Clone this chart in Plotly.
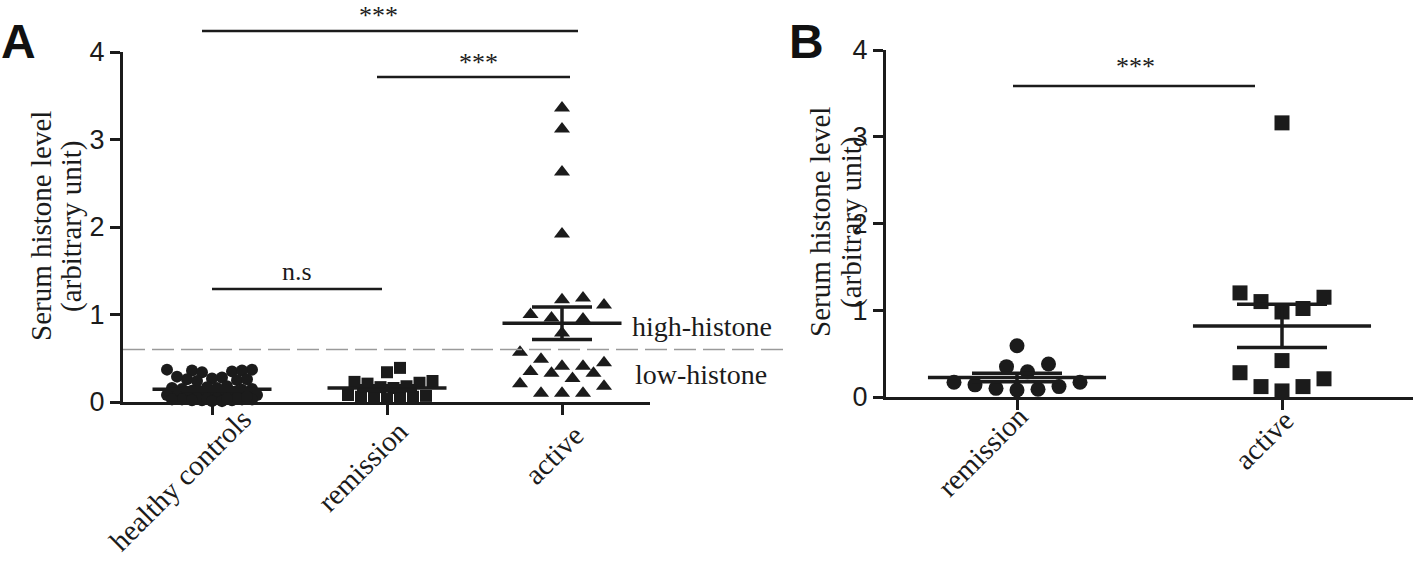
import numpy as np
import plotly.graph_objects as go

# ---------------- data ----------------
categories_a = ["healthy controls", "remission", "active"]
categories_b = ["remission", "active"]

healthy_a = [0.36, 0.37, 0.35, 0.36, 0.34, 0.37,
             0.28, 0.26, 0.27, 0.25, 0.24, 0.29, 0.26,
             0.17, 0.15, 0.16, 0.14, 0.18, 0.13, 0.15, 0.16,
             0.09, 0.08, 0.10, 0.07, 0.09, 0.11, 0.08, 0.06,
             0.03, 0.02, 0.04, 0.03, 0.05, 0.02, 0.03, 0.04, 0.01,
             0.05, 0.06, 0.02, 0.03, 0.01, 0.04]
remission_a = [0.39, 0.34, 0.24, 0.22, 0.23, 0.21, 0.18, 0.16, 0.17,
               0.06, 0.05, 0.07, 0.04, 0.06, 0.05, 0.08]
active_a = [3.36, 3.12, 2.63, 1.92, 1.19, 1.11, 1.17, 0.95, 1.00, 0.96,
            0.79, 0.57, 0.41, 0.49, 0.35, 0.33, 0.33, 0.41, 0.45, 0.27,
            0.21, 0.10, 0.10, 0.10, 0.18]

remission_b = [0.59, 0.38, 0.35, 0.29, 0.17, 0.14, 0.10, 0.08, 0.09, 0.12, 0.17]
active_b = [3.16, 1.20, 1.10, 0.98, 1.02, 1.15, 0.42, 0.28, 0.12, 0.07, 0.12, 0.21]

y_ticks = [0, 1, 2, 3, 4]
threshold = 0.6
sig_a = [("healthy controls", "active", "***"),
         ("remission", "active", "***"),
         ("healthy controls", "remission", "n.s")]
sig_b = [("remission", "active", "***")]

# ---------------- layout constants ----------------
W, H = 1418, 563
INK = "#1b1b1b"
SERIF = "Liberation Serif, Times New Roman, serif"
SANS = "Liberation Sans Narrow, Liberation Sans, Arial, sans-serif"

# panel A geometry (pixels)
A_X0, A_X1, A_Y0, A_Y1 = 123, 650, 402, 52
A_CAT0, A_STEP = 212, 175
# panel B geometry (pixels)
B_X0, B_X1, B_Y0, B_Y1 = 886, 1413, 397, 50
B_CAT0, B_STEP = 1017, 265

def xrange(x0, x1, c0, step):
    return [(x0 - c0) / step, (x1 - c0) / step]

def ydom(ybot, ytop):
    return [(H - ybot) / H, (H - ytop) / H]

def beeswarm(values, px_x, px_y, step, min_dist, max_half):
    """Constrained swarm: nearest-to-centre free slot, else least-overlapping slot."""
    vals = np.asarray(values, float)
    order = np.argsort(vals, kind="stable")
    nmax = int(max_half // step)
    cands = [0.0]
    for n in range(1, nmax + 1):
        cands += [n * step, -n * step]
    placed = []
    offs = np.zeros(len(vals))
    for i in order:
        yp = vals[i] * px_y
        best, best_d = None, -1
        chosen = None
        for c in cands:
            d = min([np.hypot(c - px, yp - py) for px, py in placed] or [1e9])
            if d >= min_dist - 1e-9:
                chosen = c
                break
            if d > best_d + 1e-9:
                best, best_d = c, d
        if chosen is None:
            chosen = best
        placed.append((chosen, yp))
        offs[i] = chosen / px_x
    return offs

fig = go.Figure()

def add_group(values, idx, symbol, size, xa, ya, px_x, px_y, step, min_dist, max_half,
              mean_hw, cap_px):
    vals = np.asarray(values, float)
    offs = beeswarm(vals, px_x, px_y, step, min_dist, max_half)
    fig.add_trace(go.Scatter(x=idx + offs, y=vals, mode="markers", xaxis=xa, yaxis=ya,
                             marker=dict(symbol=symbol, size=size, color=INK, line=dict(width=0)),
                             cliponaxis=False, showlegend=False, hoverinfo="y"))
    mean = vals.mean()
    sem = vals.std(ddof=1) / np.sqrt(len(vals))
    fig.add_trace(go.Scatter(x=[idx - mean_hw, idx + mean_hw], y=[mean, mean], mode="lines",
                             xaxis=xa, yaxis=ya, line=dict(color=INK, width=3.5),
                             showlegend=False, hoverinfo="skip"))
    fig.add_trace(go.Scatter(x=[idx], y=[mean], mode="markers", xaxis=xa, yaxis=ya,
                             marker=dict(size=1, color="rgba(0,0,0,0)"),
                             error_y=dict(type="data", array=[sem], symmetric=True,
                                          color=INK, thickness=3.5, width=cap_px),
                             showlegend=False, hoverinfo="skip"))

# panel A
pxA_y = (A_Y0 - A_Y1) / 4
add_group(healthy_a, 0, "circle", 12, "x", "y", A_STEP, pxA_y, 5, 10, 46, 0.34, 30)
add_group(remission_a, 1, "square", 12, "x", "y", A_STEP, pxA_y, 6.5, 12, 46, 0.34, 30)
add_group(active_a, 2, "triangle-up", 14, "x", "y", A_STEP, pxA_y, 10.5, 18, 42, 0.34, 30)
# panel B
pxB_y = (B_Y0 - B_Y1) / 4
add_group(remission_b, 0, "circle", 15, "x2", "y2", B_STEP, pxB_y, 10.5, 20, 63, 0.336, 45)
add_group(active_b, 1, "square", 15, "x2", "y2", B_STEP, pxB_y, 10.5, 20, 42, 0.336, 45)

axis_common = dict(showline=True, linewidth=3, linecolor=INK, ticks="outside",
                   tickwidth=3, tickcolor=INK, showgrid=False, zeroline=False,
                   automargin=False)

fig.update_layout(
    width=W, height=H, margin=dict(l=0, r=0, t=0, b=0, pad=0), autosize=False,
    paper_bgcolor="white", plot_bgcolor="white", showlegend=False,
    xaxis=dict(domain=[A_X0 / W, A_X1 / W], range=xrange(A_X0, A_X1, A_CAT0, A_STEP),
               tickvals=list(range(len(categories_a))), showticklabels=False,
               ticklen=10, anchor="y", **axis_common),
    yaxis=dict(domain=ydom(A_Y0, A_Y1), range=[0, 4], tickvals=y_ticks, ticklen=10,
               tickfont=dict(family=SANS, size=27, color=INK), anchor="x", **axis_common),
    xaxis2=dict(domain=[B_X0 / W, B_X1 / W], range=xrange(B_X0, B_X1, B_CAT0, B_STEP),
                tickvals=list(range(len(categories_b))), showticklabels=False,
                ticklen=10, anchor="y2", **axis_common),
    yaxis2=dict(domain=ydom(B_Y0, B_Y1), range=[0, 4], tickvals=y_ticks, ticklen=10,
                tickfont=dict(family=SANS, size=27, color=INK), anchor="x2", **axis_common),
)

shapes = []
annotations = []

# rotated category labels (anchored at their upper-right corner near each tick)
label_shift_a = [(48, 2), (30, -10), (30, -14)]
label_shift_b = [(20, 0), (20, -4)]
for cats, xa, ya, shifts in [(categories_a, "x", "y", label_shift_a),
                             (categories_b, "x2", "y2", label_shift_b)]:
    for i, (c, (dx, dy)) in enumerate(zip(cats, shifts)):
        annotations.append(dict(text=c, xref=xa, yref=ya, x=i, y=0, textangle=-45,
                                xanchor="right", yanchor="top", xshift=dx, yshift=dy,
                                showarrow=False, font=dict(family=SERIF, size=29, color=INK)))

# threshold dashed line (panel A), extends past the axis end
shapes.append(dict(type="line", xref="x domain", yref="y", x0=0, x1=(790 - A_X0) / (A_X1 - A_X0),
                   y0=threshold, y1=threshold, line=dict(color="#9a9a9a", width=1.5, dash="22px,7px")))
annotations.append(dict(text="high-histone", xref="x", yref="y", x=(630 - A_CAT0) / A_STEP,
                        y=threshold + 0.26, xanchor="left", yanchor="middle", showarrow=False,
                        font=dict(family=SERIF, size=28, color=INK)))
annotations.append(dict(text="low-histone", xref="x", yref="y", x=(633 - A_CAT0) / A_STEP,
                        y=threshold - 0.28, xanchor="left", yanchor="middle", showarrow=False,
                        font=dict(family=SERIF, size=28, color=INK)))

# significance bars
def sig(specs, xa, bars_px, text_px, cat0, step):
    for (a, b, label), (xl, xr, yb), (xt, yt) in zip(specs, bars_px, text_px):
        shapes.append(dict(type="line", xref=xa, yref="paper",
                           x0=(xl - cat0) / step, x1=(xr - cat0) / step,
                           y0=(H - yb) / H, y1=(H - yb) / H, line=dict(color=INK, width=2.5)))
        annotations.append(dict(text=label, xref=xa, yref="paper", x=(xt - cat0) / step,
                                y=(H - yt) / H, xanchor="center", yanchor="middle",
                                showarrow=False, font=dict(family=SERIF, size=26, color=INK)))

sig(sig_a, "x", [(202, 578, 31), (377, 570, 77), (212, 382, 289)],
    [(378, 16), (478, 63), (297, 271)], A_CAT0, A_STEP)
sig(sig_b, "x2", [(1013, 1255, 86)], [(1135, 67)], B_CAT0, B_STEP)

# y-axis titles (two lines each)
for cx, cy in [(41, 226), (820, 222)]:
    annotations.append(dict(text="Serum histone level", xref="paper", yref="paper",
                            x=cx / W, y=(H - cy) / H, textangle=-90, showarrow=False,
                            xanchor="center", yanchor="middle",
                            font=dict(family=SERIF, size=29, color=INK)))
    annotations.append(dict(text="(arbitrary unit)", xref="paper", yref="paper",
                            x=(cx + 31) / W, y=(H - cy) / H, textangle=-90, showarrow=False,
                            xanchor="center", yanchor="middle",
                            font=dict(family=SERIF, size=29, color=INK)))

# panel letters
for lab, cx, cy in [("A", 18, 42), ("B", 806, 42)]:
    annotations.append(dict(text="<b>%s</b>" % lab, xref="paper", yref="paper",
                            x=cx / W, y=(H - cy) / H, showarrow=False,
                            xanchor="center", yanchor="middle",
                            font=dict(family="Liberation Sans, Arial, sans-serif", size=48, color="#111")))

fig.update_layout(shapes=shapes, annotations=annotations)
fig.write_html("out.html", config={"displayModeBar": False, "staticPlot": True},
               post_script="document.body.style.margin='0';document.body.style.overflow='hidden';")
